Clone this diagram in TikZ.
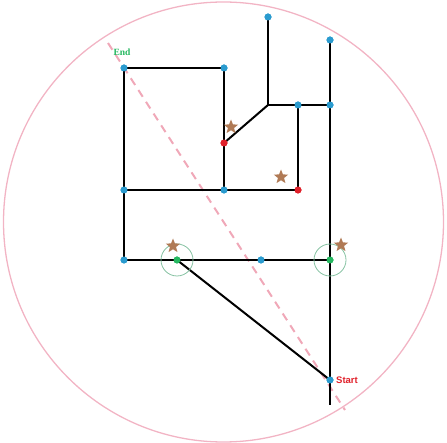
\documentclass[tikz,border=0pt]{standalone}
\usepackage{fontspec}
\newfontfamily\labelsans{Liberation Sans}
\newfontfamily\labelserif{Liberation Serif}
\usetikzlibrary{shapes.geometric}
\definecolor{dotblue}{HTML}{2A9BCF}
\definecolor{dotred}{HTML}{E0202A}
\definecolor{dotgreen}{HTML}{25B860}
\definecolor{ringpink}{HTML}{F2B4C4}
\definecolor{dashpink}{HTML}{F0A8B8}
\definecolor{starbrown}{HTML}{B07A55}
\definecolor{ringgreen}{HTML}{86C2A2}
\tikzset{
  vb/.style={circle,fill=dotblue,inner sep=0pt,minimum size=7pt},
  vr/.style={circle,fill=dotred,inner sep=0pt,minimum size=7pt},
  vg/.style={circle,fill=dotgreen,inner sep=0pt,minimum size=7pt},
  vc/.style={inner sep=0pt,minimum size=0pt},
  edge/.style={line width=2pt,black},
  starmark/.style={star,star points=5,star point ratio=2.3,fill=starbrown,inner sep=0pt,minimum size=15pt},
  selring/.style={draw=ringgreen,line width=0.8pt,circle,inner sep=0pt,minimum size=32pt},
  lbl/.style={font=\bfseries\fontsize{9.5}{11}\selectfont,inner sep=0pt}
}
\begin{document}
\begin{tikzpicture}[x=1pt,y=-1pt]
\useasboundingbox (0,0) rectangle (447,443);
\node[draw=ringpink,line width=1.3pt,circle,minimum size=440pt,inner sep=0pt] (boundary) at (223.5,222) {};
\coordinate (dA) at (108,43);
\coordinate (dB) at (345,410);
\draw[dashpink,line width=2pt,dash pattern=on 8pt off 6pt] (dA) -- (dB);
\coordinate (bot) at (330,405);
\node[vc] (corner) at (268,105) {};
\node[vb] (endn) at (124,68) {};
\node[vb] (tr) at (224,68) {};
\node[vb] (lm) at (124,190) {};
\node[vb] (mm) at (224,190) {};
\node[vr] (rd1) at (224,143) {};
\node[vr] (rd2) at (298,190) {};
\node[vb] (top1) at (268,17) {};
\node[vb] (m1) at (298,105) {};
\node[vb] (m2) at (330,105) {};
\node[vb] (top2) at (330,40) {};
\node[vb] (bl) at (124,260) {};
\node[vg] (g1) at (177,260) {};
\node[vb] (bm) at (261,260) {};
\node[vg] (g2) at (330,260) {};
\node[vb] (start) at (330,380) {};
\draw[edge] (endn.center) -- (tr.center);
\draw[edge] (endn.center) -- (bl.center);
\draw[edge] (tr.center) -- (mm.center);
\draw[edge] (lm.center) -- (rd2.center);
\draw[edge] (rd2.center) -- (m1.center);
\draw[edge] (rd1.center) -- (corner.center);
\draw[edge] (corner.center) -- (top1.center);
\draw[edge] (corner.center) -- (m2.center);
\draw[edge] (top2.center) -- (bot);
\draw[edge] (bl.center) -- (g2.center);
\draw[edge] (g1.center) -- (start.center);
\foreach \n in {endn,tr,lm,mm,top1,m1,m2,top2,bl,bm,start}
  \fill[dotblue] (\n) circle (3.5pt);
\foreach \n in {rd1,rd2}
  \fill[dotred] (\n) circle (3.5pt);
\foreach \n in {g1,g2}
  \fill[dotgreen] (\n) circle (3.5pt);
\node[selring] (ring1) at (g1) {};
\node[selring] (ring2) at (g2) {};
\node[starmark] (s1) at (231,127) {};
\node[starmark] (s2) at (281,177) {};
\node[starmark] (s3) at (173,246) {};
\node[starmark] (s4) at (341,245) {};
\node[lbl,text=dotgreen] (endl) at (122,52) {\labelserif End};
\node[lbl,text=dotred,anchor=west] (startl) at (336,380) {\labelsans Start};
\end{tikzpicture}
\end{document}
